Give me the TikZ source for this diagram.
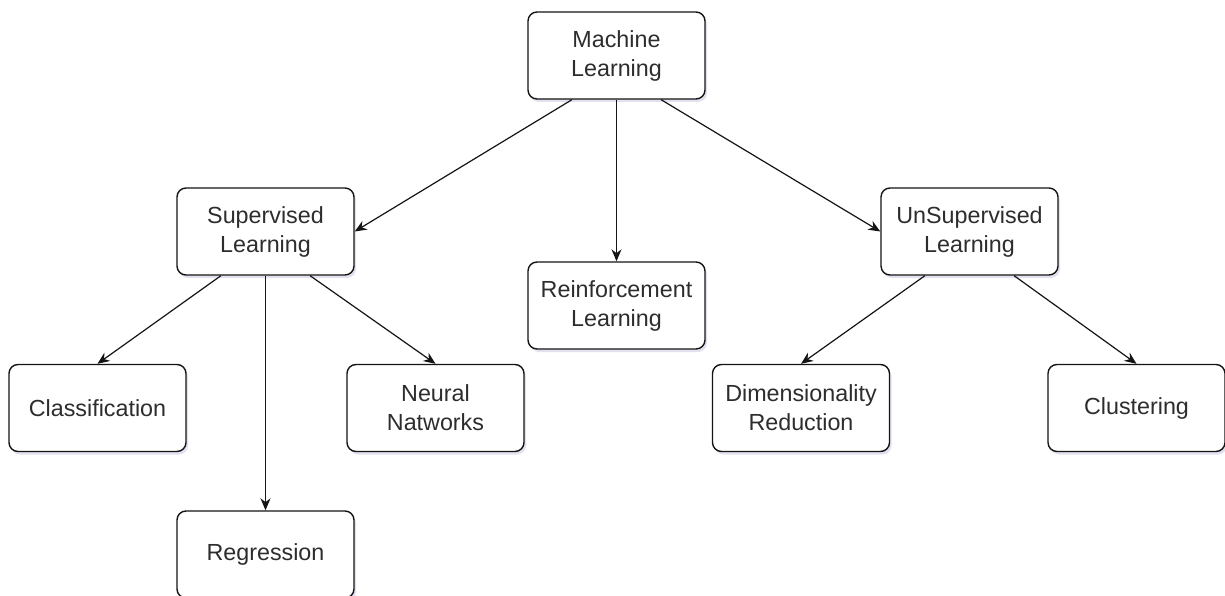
\documentclass[tikz,border=0pt]{standalone}
\usepackage{fontspec}
\setmainfont{Liberation Sans}
\usetikzlibrary{arrows.meta,calc,shadows}
\definecolor{inkline}{RGB}{20,20,20}
\definecolor{inktext}{RGB}{45,45,45}
\tikzset{
  box/.style={draw=inkline, line width=1.4pt, rounded corners=9pt, fill=white,
    minimum width=177pt, minimum height=87pt, inner sep=0pt,
    align=center, text=inktext,
    font=\fontsize{23.3}{29}\selectfont,
    drop shadow={opacity=0.18, shadow xshift=2pt, shadow yshift=-3pt, fill=blue!30!gray}},
  link/.style={draw=inkline, line width=1.2pt, -{Stealth[length=12pt,width=10pt]}}
}
\begin{document}
\begin{tikzpicture}[x=1pt, y=-1pt]
\useasboundingbox (0,0) rectangle (1225,596);
% tree of nodes
\node[box] (ml)  at (616.5, 55.5)  {Machine\\Learning};
\node[box] (sup) at (265.5, 231.5) {Supervised\\Learning};
\node[box] (rl)  at (616.5, 305.5) {Reinforcement\\Learning};
\node[box] (uns) at (969.5, 231.5) {UnSupervised\\Learning};
\node[box] (cls) at (97.5, 408)    {Classification};
\node[box] (nn)  at (435.5, 408)   {Neural\\Natworks};
\node[box] (reg) at (265.5, 554.5) {Regression};
\node[box] (dim) at (801, 408)     {Dimensionality\\Reduction};
\node[box] (clu) at (1136.5, 408)  {Clustering};
% connectors
\draw[link] ($(ml.south west)!0.25!(ml.south east)$) -- (sup.east);
\draw[link] (ml.south) -- (rl.north);
\draw[link] ($(ml.south west)!0.75!(ml.south east)$) -- (uns.west);
\draw[link] ($(sup.south west)!0.25!(sup.south east)$) -- (cls.north);
\draw[link] (sup.south) -- (reg.north);
\draw[link] ($(sup.south west)!0.75!(sup.south east)$) -- (nn.north);
\draw[link] ($(uns.south west)!0.25!(uns.south east)$) -- (dim.north);
\draw[link] ($(uns.south west)!0.75!(uns.south east)$) -- (clu.north);
\end{tikzpicture}
\end{document}
